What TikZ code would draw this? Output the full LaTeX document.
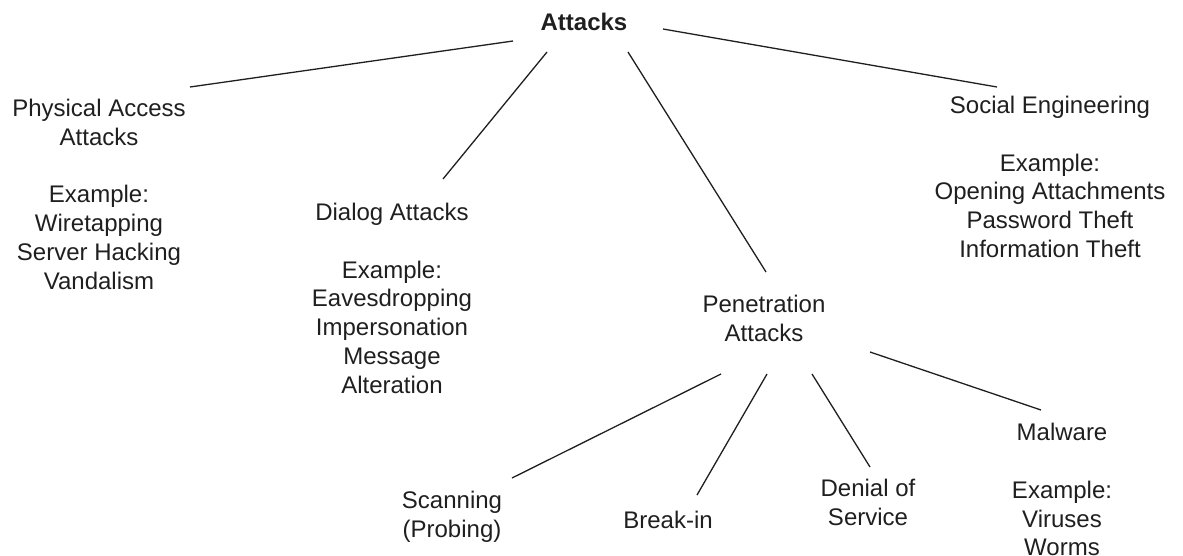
\documentclass[tikz,border=0pt]{standalone}
\usepackage{fontspec}
\setmainfont{Liberation Sans}
\begin{document}
\begin{tikzpicture}[x=1pt,y=-1pt,
  lbl/.style={font=\fontsize{24}{28.8}\selectfont, align=center, inner sep=0pt, anchor=north, text=black!88},
  ttl/.style={font=\fontsize{24}{28.8}\selectfont\bfseries, inner sep=0pt, anchor=north, text=black!88},
  edge/.style={line width=1.3pt, draw=black!88}]
\useasboundingbox (0,0) rectangle (1183,555);
% nodes
\node[ttl] (root) at (584,13) {Attacks};
\node[lbl] (phys) at (99,99) {Physical Access\\Attacks\\[28.8pt]Example:\\Wiretapping\\Server Hacking\\Vandalism};
\node[lbl] (dialog) at (392,203) {Dialog Attacks\\[28.8pt]Example:\\Eavesdropping\\Impersonation\\Message\\Alteration};
\node[lbl] (social) at (1050,96) {Social Engineering\\[28.8pt]Example:\\Opening Attachments\\Password Theft\\Information Theft};
\node[lbl] (pen) at (764,295) {Penetration\\Attacks};
\node[lbl] (scan) at (452,491) {Scanning\\(Probing)};
\node[lbl] (break) at (668,511) {Break-in};
\node[lbl] (dos) at (868,479) {Denial of\\Service};
\node[lbl] (mal) at (1062,423) {Malware\\[28.8pt]Example:\\Viruses\\Worms};
% connector end points
\coordinate (r1) at (513,41);  \coordinate (phys-e) at (190,87);
\coordinate (r2) at (547,52);  \coordinate (dialog-e) at (443,179);
\coordinate (r3) at (628,52);  \coordinate (pen-e) at (766,272);
\coordinate (r4) at (663,29);  \coordinate (social-e) at (997,87);
\coordinate (p1) at (721,374); \coordinate (scan-e) at (512,478);
\coordinate (p2) at (767,374); \coordinate (break-e) at (697,495);
\coordinate (p3) at (812,374); \coordinate (dos-e) at (870,467);
\coordinate (p4) at (870,352); \coordinate (mal-e) at (1041,410);
% connectors
\draw[edge] (r1) -- (phys-e);
\draw[edge] (r2) -- (dialog-e);
\draw[edge] (r3) -- (pen-e);
\draw[edge] (r4) -- (social-e);
\draw[edge] (p1) -- (scan-e);
\draw[edge] (p2) -- (break-e);
\draw[edge] (p3) -- (dos-e);
\draw[edge] (p4) -- (mal-e);
\end{tikzpicture}
\end{document}
